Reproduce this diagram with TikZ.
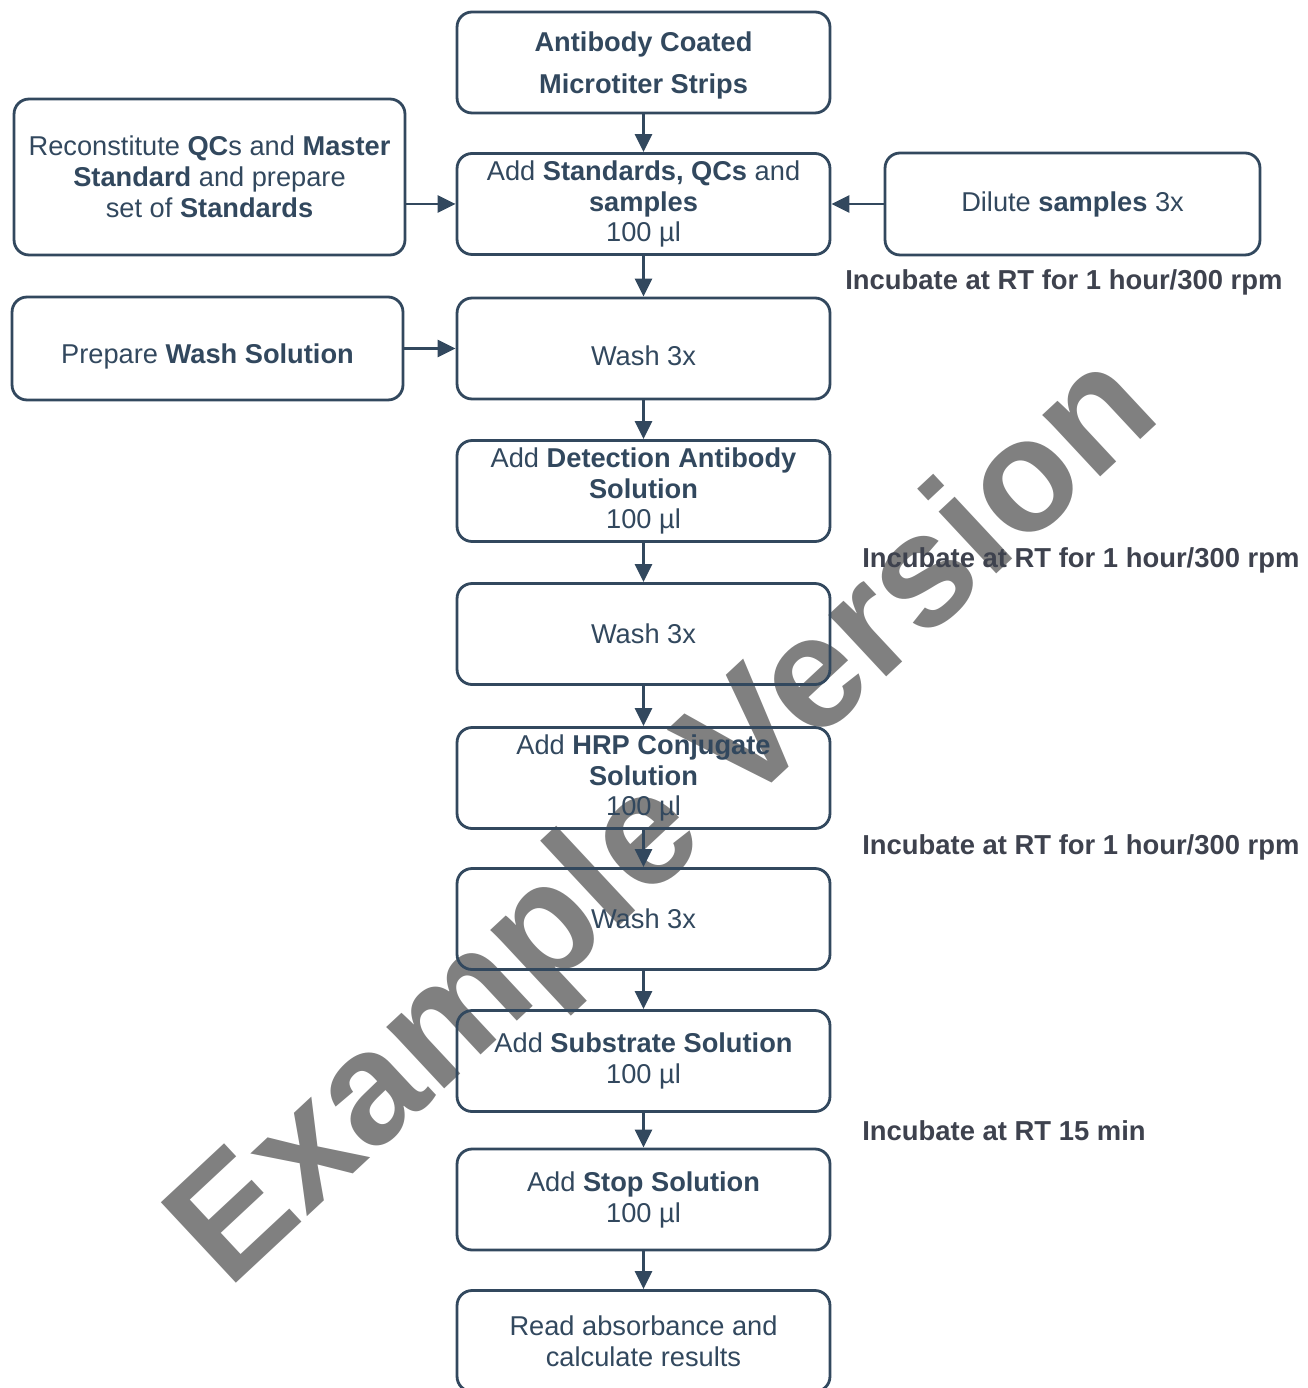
\documentclass[tikz,border=0pt]{standalone}
\usepackage{fontspec}
\setmainfont{Liberation Sans}
\usetikzlibrary{arrows.meta}
\definecolor{flowblue}{RGB}{50,72,94}
\definecolor{notegray}{RGB}{62,66,78}
\definecolor{wmgray}{RGB}{128,128,128}

\begin{document}
\begin{tikzpicture}[x=0.02cm, y=-0.02cm,
    stepbox/.style={draw=flowblue, line width=1.6pt, rounded corners=0.3cm,
        minimum width=7.46cm, minimum height=2.02cm, align=center, inner sep=0pt,
        text=flowblue, font=\fontsize{15.5}{17.6}\selectfont},
    flowarrow/.style={draw=flowblue, line width=1.6pt,
        -{Triangle[length=0.36cm, width=0.34cm]}},
    incnote/.style={anchor=west, inner sep=0pt, text=notegray,
        font=\fontsize{15.6}{18}\selectfont\bfseries},
    wmark/.style={text=wmgray, inner sep=0pt,
        font=\fontsize{91}{91}\selectfont\bfseries}]
    \useasboundingbox (0, 0) rectangle (1307, 1388);

    % watermark (behind)
    \node[wmark, rotate=43] (wm) at (668, 824) {Example Version};

    % main column
    \node[stepbox, font=\fontsize{15.5}{24}\selectfont\bfseries] (antibody) at (643.5, 62.5)
        {\raisebox{-0.06cm}[\height][\depth]{Antibody Coated}\\\raisebox{-0.06cm}[\height][\depth]{Microtiter Strips}};
    \node[stepbox] (addstd) at (643.5, 204)
        {Add \textbf{Standards, QCs} and\\\textbf{samples}\\100 µl};
    \node[stepbox] (wash1) at (643.5, 348.5) {\raisebox{-0.14cm}[\height][\depth]{Wash 3x}};
    \node[stepbox] (adddet) at (643.5, 491)
        {Add \textbf{Detection Antibody}\\\textbf{Solution}\\100 µl};
    \node[stepbox] (wash2) at (643.5, 634) {Wash 3x};
    \node[stepbox] (addhrp) at (643.5, 778)
        {Add \textbf{HRP Conjugate}\\\textbf{Solution}\\100 µl};
    \node[stepbox] (wash3) at (643.5, 919) {Wash 3x};
    \node[stepbox] (addsub) at (643.5, 1061)
        {Add \textbf{Substrate Solution}\\100 µl};
    \node[stepbox] (addstop) at (643.5, 1199.5)
        {Add \textbf{Stop Solution}\\100 µl};
    \node[stepbox] (read) at (643.5, 1341)
        {Read absorbance and\\calculate results};

    % side boxes
    \node[stepbox, minimum width=7.82cm, minimum height=3.12cm] (recon) at (209.5, 177)
        {Reconstitute \textbf{QC}s and \textbf{Master}\\\textbf{Standard} and prepare\\set of \textbf{Standards}};
    \node[stepbox, minimum width=7.82cm, minimum height=2.06cm] (prepwash) at (207.5, 348.5)
        {\raisebox{-0.16cm}[\height][\depth]{Prepare \textbf{Wash Solution}}};
    \node[stepbox, minimum width=7.5cm, minimum height=2.04cm] (dilute) at (1072.5, 204)
        {Dilute \textbf{samples} 3x};

    % arrows
    \draw[flowarrow] (antibody) -- (addstd);
    \draw[flowarrow] (addstd) -- (wash1);
    \draw[flowarrow] (wash1) -- (adddet);
    \draw[flowarrow] (adddet) -- (wash2);
    \draw[flowarrow] (wash2) -- (addhrp);
    \draw[flowarrow] (addhrp) -- (wash3);
    \draw[flowarrow] (wash3) -- (addsub);
    \draw[flowarrow] (addsub) -- (addstop);
    \draw[flowarrow] (addstop) -- (read);
    \draw[flowarrow] (recon.east |- addstd.west) -- (addstd.west);
    \draw[flowarrow] (prepwash.east) -- (wash1.west);
    \draw[flowarrow] (dilute.west) -- (addstd.east);

    % incubation notes
    \node[incnote] (inc1) at (845, 282) {Incubate at RT for 1 hour/300 rpm};
    \node[incnote] (inc2) at (862, 560) {Incubate at RT for 1 hour/300 rpm};
    \node[incnote] (inc3) at (862, 847) {Incubate at RT for 1 hour/300 rpm};
    \node[incnote] (inc4) at (862, 1131) {Incubate at RT 15 min};
\end{tikzpicture}
\end{document}
